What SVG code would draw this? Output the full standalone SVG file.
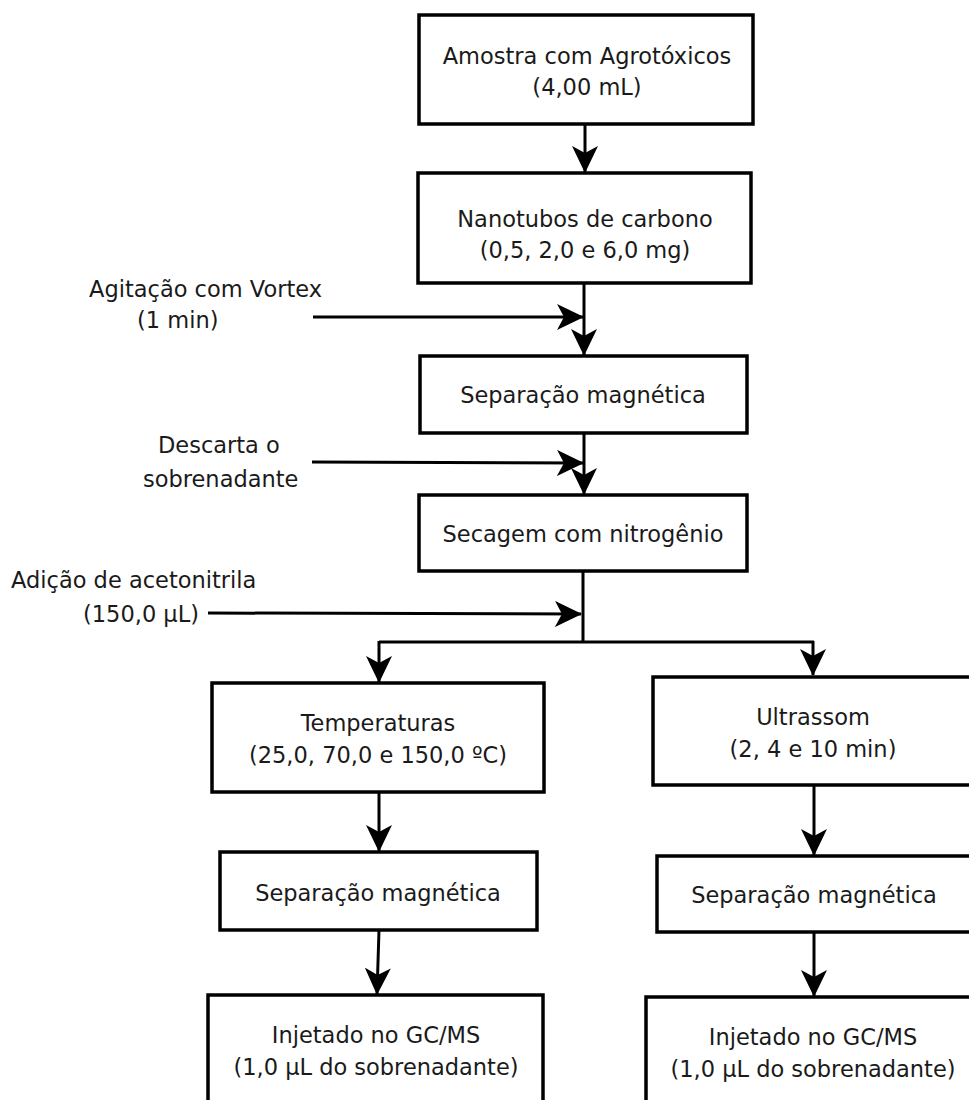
<svg xmlns="http://www.w3.org/2000/svg" width="969" height="1100" viewBox="0 0 969 1100">
<style>
.box{fill:#fff;stroke:#000;stroke-width:3.5}
.t{font-family:"DejaVu Sans",Verdana,sans-serif;font-size:22.5px;fill:#1a1a1a;text-anchor:middle}
.l{font-family:"DejaVu Sans",Verdana,sans-serif;font-size:22.5px;fill:#1a1a1a}
.c{fill:none;stroke:#000;stroke-width:3}
</style>
<defs>
<marker id="ah" viewBox="0 0 27 26" refX="26" refY="13" markerWidth="27" markerHeight="26" orient="auto" markerUnits="userSpaceOnUse">
<path d="M0,0 L27,13 L0,26 L7,13 Z" fill="#000"/>
</marker>
</defs>
<rect width="969" height="1100" fill="#fff"/>
<g id="connectors">
<line class="c" x1="585" y1="124" x2="585" y2="172" marker-end="url(#ah)"/>
<line class="c" x1="584" y1="283" x2="584" y2="355" marker-end="url(#ah)"/>
<line class="c" x1="313" y1="317" x2="583" y2="317" marker-end="url(#ah)"/>
<line class="c" x1="584" y1="433" x2="584" y2="494" marker-end="url(#ah)"/>
<line class="c" x1="312" y1="462" x2="583" y2="463" marker-end="url(#ah)"/>
<path class="c" d="M583,571 V642 M379,642 H814"/>
<line class="c" x1="208" y1="613" x2="581" y2="614" marker-end="url(#ah)"/>
<line class="c" x1="379" y1="641" x2="379" y2="682" marker-end="url(#ah)"/>
<line class="c" x1="813" y1="641" x2="813" y2="675" marker-end="url(#ah)"/>
<line class="c" x1="379" y1="792" x2="379" y2="851" marker-end="url(#ah)"/>
<line class="c" x1="379" y1="930" x2="377" y2="994" marker-end="url(#ah)"/>
<line class="c" x1="814" y1="785" x2="814" y2="855" marker-end="url(#ah)"/>
<line class="c" x1="814" y1="932" x2="814" y2="996" marker-end="url(#ah)"/>
</g>
<g id="amostra">
<rect class="box" x="419" y="15" width="334" height="109"/>
<text class="t" x="587" y="64">Amostra com Agrotóxicos</text>
<text class="t" x="587" y="95">(4,00 mL)</text>
</g>
<g id="nanotubos">
<rect class="box" x="418" y="173" width="333" height="110"/>
<text class="t" x="585" y="227">Nanotubos de carbono</text>
<text class="t" x="585" y="258">(0,5, 2,0 e 6,0 mg)</text>
</g>
<g id="separacao1">
<rect class="box" x="420" y="356" width="327" height="77"/>
<text class="t" x="583" y="403">Separação magnética</text>
</g>
<g id="secagem">
<rect class="box" x="419" y="495" width="328" height="76"/>
<text class="t" x="583" y="542">Secagem com nitrogênio</text>
</g>
<g id="temperaturas">
<rect class="box" x="212" y="683" width="332" height="109"/>
<text class="t" x="378" y="731">Temperaturas</text>
<text class="t" x="378" y="763">(25,0, 70,0 e 150,0 ºC)</text>
</g>
<g id="separacao2">
<rect class="box" x="220" y="852" width="317" height="78"/>
<text class="t" x="378" y="901">Separação magnética</text>
</g>
<g id="injetado1">
<rect class="box" x="208" y="995" width="335" height="130"/>
<text class="t" x="376" y="1043">Injetado no GC/MS</text>
<text class="t" x="376" y="1075">(1,0 µL do sobrenadante)</text>
</g>
<g id="ultrassom">
<rect class="box" x="653" y="677" width="320" height="108"/>
<text class="t" x="813" y="725">Ultrassom</text>
<text class="t" x="813" y="757">(2, 4 e 10 min)</text>
</g>
<g id="separacao3">
<rect class="box" x="657" y="856" width="314" height="76"/>
<text class="t" x="814" y="903">Separação magnética</text>
</g>
<g id="injetado2">
<rect class="box" x="646" y="997" width="336" height="130"/>
<text class="t" x="813" y="1045">Injetado no GC/MS</text>
<text class="t" x="813" y="1077">(1,0 µL do sobrenadante)</text>
</g>
<g id="label-vortex">
<text class="l" x="89" y="297">Agitação com Vortex</text>
<text class="l" x="137" y="328">(1 min)</text>
</g>
<g id="label-descarta">
<text class="l" x="158" y="453">Descarta o</text>
<text class="l" x="143" y="487">sobrenadante</text>
</g>
<g id="label-acetonitrila">
<text class="l" x="11" y="588">Adição de acetonitrila</text>
<text class="l" x="83" y="622">(150,0 µL)</text>
</g>
</svg>
